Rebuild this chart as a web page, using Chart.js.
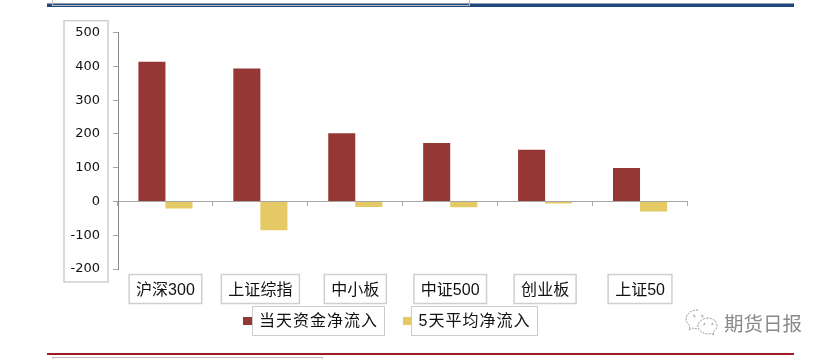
<!DOCTYPE html>
<html>
<head>
<meta charset="utf-8">
<script src="https://cdn.jsdelivr.net/npm/chart.js@4"></script>
<style>
    html, body { margin: 0; padding: 0; background: #fff; }
    #page { position: relative; width: 830px; height: 359px; overflow: hidden; }
    #chart { position: absolute; left: 0; top: 0; }
    .rule { position: absolute; left: 47px; width: 747px; }
    .frame { position: absolute; border: 1px solid #bbb; box-sizing: border-box; }
    .legend-box { position: absolute; top: 306px; height: 30px; text-align: center; box-sizing: border-box;
        border: 1.5px solid #ccc; color: #111; font: 16px/28px "Liberation Sans", "Noto Sans CJK SC", sans-serif; letter-spacing: 1px; }
    .legend-swatch { position: absolute; top: 317px; width: 9px; height: 8px; }
    #mark { position: absolute; left: 724px; top: 308px; color: #8a8a8a; font: 19.5px/30px "Noto Sans CJK SC", sans-serif; }
    #icon { position: absolute; left: 685px; top: 308px; }
</style>
</head>
<body>
<div id="page">
    <div class="rule" style="top:3px;height:4px;background:#1f497d;border-top:1px solid #8e9db5;box-sizing:border-box"></div>
    <div class="frame" style="left:52px;top:-10px;width:418px;height:16px"></div>
    <div class="rule" style="top:353px;height:2px;background:#9b1c22"></div>
    <div class="frame" style="left:52px;top:357px;width:271px;height:10px"></div>
    <canvas id="chart" width="830" height="359"></canvas>
    <div id="legend"></div>
    <svg id="icon" width="33" height="28" viewBox="0 0 33 28" fill="none" stroke="#999" stroke-width="1" stroke-dasharray="2 1.2">
        <path d="M13 2C6 2 1 6 1 11c0 3 2 5 4 7l-1 4 4-2c1 .5 3 .7 4 .7"/>
        <path d="M23 10c-5 0-10 3.500-10 8s5 8 10 8c1 0 2 0 3-.5l3 1.500-1-3c2-1.500 4-3.500 4-6 0-4.500-4-8-9-8z"/>
        <circle cx="9" cy="8" r="1"/><circle cx="17" cy="8" r="1"/><circle cx="19" cy="16" r=".8"/><circle cx="27" cy="16" r=".8"/>
    </svg>
    <div id="mark">期货日报</div>
</div>
<script>
// Chart data
const categories = ['沪深300', '上证综指', '中小板', '中证500', '创业板', '上证50'];
const dailyInflow = [414, 394, 202, 173, 153, 99];
const avgInflow = [-21, -85, -16, -17, -6, -30];
const seriesNames = ['当天资金净流入', '5天平均净流入'];
const seriesColors = ['#953735', '#e4c964'];

const AXIS_COLOR = '#a6a6a6';
const BOX_COLOR = '#cfcfcf';
const LABEL_FONT = '"Liberation Sans", "Noto Sans CJK SC", sans-serif';

// Boxes around the axis labels, sized from the scales
const labelBoxes = {
    id: 'labelBoxes',
    afterDraw(chart) {
        const { ctx, scales: { x, y } } = chart;
        ctx.save();
        ctx.strokeStyle = BOX_COLOR;
        ctx.lineWidth = 1.5;
        ctx.strokeRect(y.right - 54, y.top - 12, 44, y.bottom - y.top + 25);

        ctx.font = '16px ' + LABEL_FONT;
        categories.forEach((label, i) => {
            const w = ctx.measureText(label).width + 14;
            ctx.strokeRect(x.getPixelForTick(i) - w / 2, y.bottom + 5.5, w, 29);
        });
        ctx.restore();
    }
};

// HTML legend
function buildLegend() {
    const legend = document.getElementById('legend');
    const boxes = [{ swatch: 243, left: 252, width: 133 }, { swatch: 403, left: 411, width: 127 }];
    seriesNames.forEach((name, i) => {
        const swatch = document.createElement('div');
        swatch.className = 'legend-swatch';
        swatch.style.left = boxes[i].swatch + 'px';
        swatch.style.background = seriesColors[i];
        legend.appendChild(swatch);

        const box = document.createElement('div');
        box.className = 'legend-box';
        box.style.left = boxes[i].left + 'px';
        box.style.width = boxes[i].width + 'px';
        box.textContent = name;
        legend.appendChild(box);
    });
}

function initChart() {
    const ctx = document.getElementById('chart').getContext('2d');

    new Chart(ctx, {
        type: 'bar',
        data: {
            labels: categories,
            datasets: [
                { label: seriesNames[0], data: dailyInflow, backgroundColor: seriesColors[0] },
                { label: seriesNames[1], data: avgInflow, backgroundColor: seriesColors[1] }
            ]
        },
        plugins: [labelBoxes],
        options: {
            responsive: false,
            animation: false,
            layout: { padding: { left: 0, right: 142.5, top: 32.7, bottom: 90 } },
            datasets: { bar: { categoryPercentage: 0.57, barPercentage: 1 } },
            plugins: {
                legend: { display: false },
                tooltip: { enabled: false }
            },
            scales: {
                x: {
                    position: { y: 0 },
                    grid: { drawOnChartArea: false, color: AXIS_COLOR, tickLength: 4 },
                    border: { color: AXIS_COLOR },
                    ticks: {
                        color: '#111',
                        padding: 76,
                        maxRotation: 0,
                        autoSkip: false,
                        font: { family: LABEL_FONT, size: 16 }
                    }
                },
                y: {
                    min: -200,
                    max: 500,
                    afterFit(scale) { scale.width = 118; },
                    grid: { drawOnChartArea: false, color: AXIS_COLOR, tickLength: 5 },
                    border: { color: '#8c8c8c' },
                    ticks: {
                        stepSize: 100,
                        color: '#111',
                        padding: 13,
                        font: { family: '"DejaVu Sans", sans-serif', size: 13 }
                    }
                }
            }
        }
    });
}

buildLegend();
initChart();
</script>
</body>
</html>
